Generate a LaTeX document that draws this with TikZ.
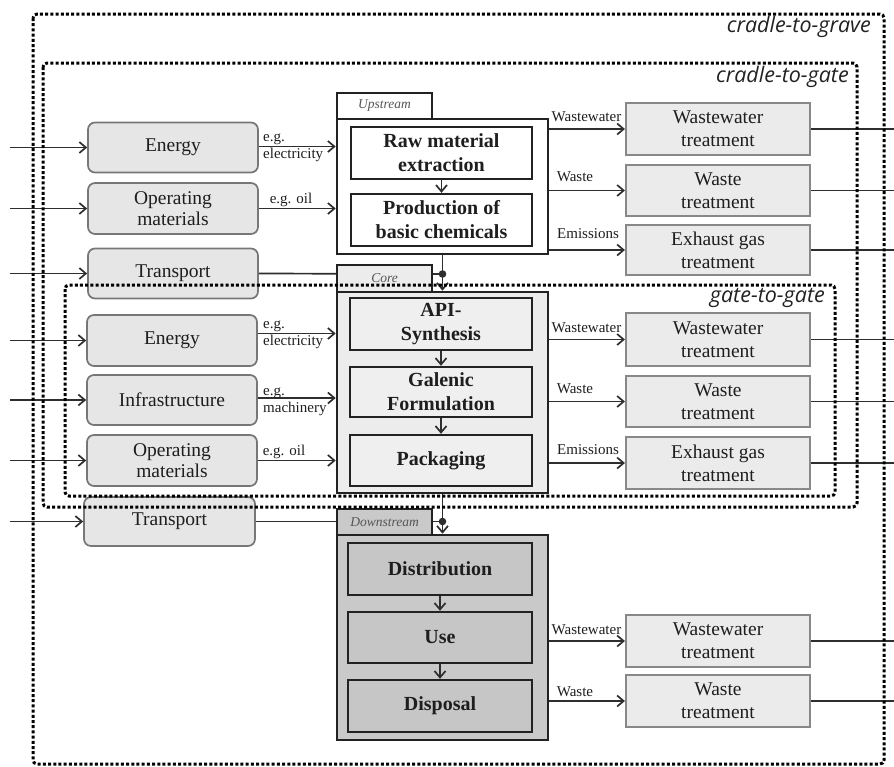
\documentclass[tikz,border=0pt]{standalone}
\usepackage{fontspec}
\setmainfont{Liberation Serif}
\newfontfamily\labfont{Open Sans}
\usetikzlibrary{arrows.meta}
\definecolor{boxgray}{HTML}{777777}
\definecolor{lightfill}{HTML}{E6E6E6}
\definecolor{outborder}{HTML}{888888}
\definecolor{lightfill2}{HTML}{EBEBEB}
\definecolor{dark}{HTML}{222222}
\definecolor{linecol}{HTML}{2E2E2E}
\definecolor{txt}{HTML}{1E1E1E}
\definecolor{tabtext}{HTML}{555555}
\definecolor{corefill}{HTML}{ECECEC}
\definecolor{coreinner}{HTML}{EFEFEF}
\definecolor{dnfill}{HTML}{C9C9C9}
\definecolor{dninner}{HTML}{C6C6C6}
\begin{document}
\begin{tikzpicture}[x=1pt,y=-1pt,
 inbox/.style={draw=boxgray, fill=lightfill, line width=1.7pt, rounded corners=7pt, minimum width=170pt, minimum height=50pt, align=center, font=\fontsize{19.5}{21}\selectfont, text=txt, inner sep=0pt},
 outbox/.style={draw=outborder, fill=lightfill2, line width=2.1pt, minimum width=184pt, minimum height=51pt, align=center, font=\fontsize{19.5}{23}\selectfont, text=txt, inner sep=0pt},
 mainbox/.style={draw=dark, line width=2.6pt, minimum width=211pt, inner sep=0pt},
 tabbox/.style={draw=dark, line width=2.2pt, minimum width=95pt, minimum height=26pt, font=\fontsize{13.5}{15}\selectfont\itshape, text=tabtext, inner sep=0pt},
 procbox/.style={draw=dark, line width=2.4pt, minimum width=181pt, minimum height=52pt, align=center, font=\fontsize{20}{24}\selectfont\bfseries, text=txt, inner sep=0pt},
 flow/.style={draw=linecol, line width=1.7pt, -{Straight Barb[length=6.5pt,width=11pt,line width=1.7pt]}},
 plain/.style={draw=linecol, line width=1.7pt},
 lbl/.style={font=\fontsize{15}{17}\selectfont, text=txt, inner sep=0pt, align=left},
 zone/.style={draw=black, line width=3pt, dash pattern=on 3pt off 2.2pt, rounded corners=4pt},
 zonelbl/.style={font=\labfont\itshape\fontsize{21.5}{24}\selectfont, text=dark, anchor=east, inner sep=0pt}
]
\useasboundingbox (0,0) rectangle (894,766);
\coordinate (L) at (10,0);
\coordinate (R) at (894,0);

% left input boxes
\node[inbox] (E1) at (173,147.5) {Energy};
\node[inbox, minimum height=51pt] (O1) at (173,208.5) {Operating\\materials};
\node[inbox] (T1) at (173,273.5) {Transport};
\node[inbox, minimum height=51pt] (E2) at (172,340.5) {Energy};
\node[inbox] (I2) at (172,400) {Infrastructure};
\node[inbox, minimum height=51pt] (O2) at (172,460.5) {Operating\\materials};
\node[inbox, minimum width=171pt, minimum height=49pt] (T2) at (169.5,521.5) {Transport};

% junctions
\coordinate (jU) at (442.5,274);
\coordinate (jD) at (442.5,521.5);
\draw[plain] (T1.east) -- (jU);
\draw[plain] (T2.east) -- (jD);

% main process boxes
\node[mainbox, fill=white, minimum height=135pt] (upmain) at (442.5,186.5) {};
\node[tabbox, fill=white] (uptab) at (384.5,106) {Upstream};
\node[procbox, fill=white] (raw) at (441.5,153) {Raw material\\extraction};
\node[procbox, fill=white] (prod) at (441.5,220) {Production of\\basic chemicals};

\node[mainbox, fill=corefill, minimum height=201pt] (coremain) at (442.5,392.5) {};
\node[tabbox, fill=corefill, minimum height=27pt] (coretab) at (384.5,278.5) {Core};
\node[procbox, fill=coreinner, minimum width=182pt] (api) at (441,324) {API-\\Synthesis};
\node[procbox, fill=coreinner, minimum width=182pt, minimum height=50pt] (gal) at (441,392) {Galenic\\Formulation};
\node[procbox, fill=coreinner, minimum width=182pt, minimum height=51pt] (pack) at (441,460.5) {Packaging};

\node[mainbox, fill=dnfill, minimum height=205pt] (dnmain) at (442.5,637.5) {};
\node[tabbox, fill=dnfill] (dntab) at (384.5,522) {Downstream};
\node[procbox, fill=dninner, minimum width=184pt] (dist) at (440,569) {Distribution};
\node[procbox, fill=dninner, minimum width=184pt, minimum height=51pt] (use) at (440,637.5) {Use};
\node[procbox, fill=dninner, minimum width=184pt] (disp) at (440,706) {Disposal};

% inner arrows
\draw[flow] (raw) -- (prod);
\draw[flow] (api) -- (gal);
\draw[flow] (gal) -- (pack);
\draw[flow] (dist) -- (use);
\draw[flow] (use) -- (disp);

% vertical links
\draw[flow] (upmain.south) -- (coremain.north);
\draw[flow] (coremain.south) -- (dnmain.north);
\fill[linecol] (jU) circle (3.8pt);
\fill[linecol] (jD) circle (3.8pt);

% right treatment boxes
\node[outbox, minimum height=52pt] (wwU) at (718,129) {Wastewater\\treatment};
\node[outbox] (wsU) at (718,190.5) {Waste\\treatment};
\node[outbox, minimum height=50pt] (exU) at (718,250) {Exhaust gas\\treatment};
\node[outbox, minimum height=53pt] (wwC) at (718,339.5) {Wastewater\\treatment};
\node[outbox] (wsC) at (718,401.5) {Waste\\treatment};
\node[outbox, minimum height=52pt] (exC) at (718,463) {Exhaust gas\\treatment};
\node[outbox, minimum height=52pt] (wwD) at (718,641) {Wastewater\\treatment};
\node[outbox, minimum height=52pt] (wsD) at (718,701) {Waste\\treatment};

% inputs
\foreach \n in {E1,O1,T1,E2,I2,O2,T2} {
  \draw[flow] (L |- \n.west) -- (\n.west);
}
% inputs to processes
\draw[flow] ([yshift=1pt]E1.east) -- ([yshift=1pt]E1.east -| upmain.west);
\draw[flow] (O1.east) -- (O1.east -| upmain.west);
\draw[flow] ([yshift=7pt]E2.east) -- ([yshift=7pt]E2.east -| coremain.west);
\draw[flow] ([yshift=2pt]I2.east) -- ([yshift=2pt]I2.east -| coremain.west);
\draw[flow] (O2.east) -- (O2.east -| coremain.west);
\node[lbl, anchor=west] (l1) at (263,148) {e.g.\\electricity};
\node[lbl] (l2) at (291,200) {e.g. oil};
\node[lbl, anchor=west] (l3) at (263,335) {e.g.\\electricity};
\node[lbl, anchor=west] (l4) at (263,401.5) {e.g.\\machinery};
\node[lbl] (l5) at (284,452) {e.g. oil};

% outputs to treatment
\foreach \m/\t in {upmain/wwU, upmain/wsU, upmain/exU, coremain/wwC, coremain/wsC, coremain/exC, dnmain/wwD, dnmain/wsD} {
  \draw[flow] (\m.east |- \t.west) -- (\t.west);
  \draw[plain] (\t.east) -- (R |- \t.east);
}
\node[lbl] (r1) at (586.5,117) {Wastewater};
\node[lbl] (r2) at (575,177) {Waste};
\node[lbl] (r3) at (588,234) {Emissions};
\node[lbl] (r4) at (586.5,328) {Wastewater};
\node[lbl] (r5) at (575,389) {Waste};
\node[lbl] (r6) at (588,450) {Emissions};
\node[lbl] (r7) at (586.5,630) {Wastewater};
\node[lbl] (r8) at (575,692) {Waste};

% zones
\draw[zone] (33,14) rectangle (884,764);
\draw[zone] (43,63) rectangle (857,507);
\draw[zone] (65,285) rectangle (835,496);
\node[zonelbl] (z1) at (871,27) {cradle-to-grave};
\node[zonelbl] (z2) at (849,77) {cradle-to-gate};
\node[zonelbl] (z3) at (825,298) {gate-to-gate};
\end{tikzpicture}
\end{document}
